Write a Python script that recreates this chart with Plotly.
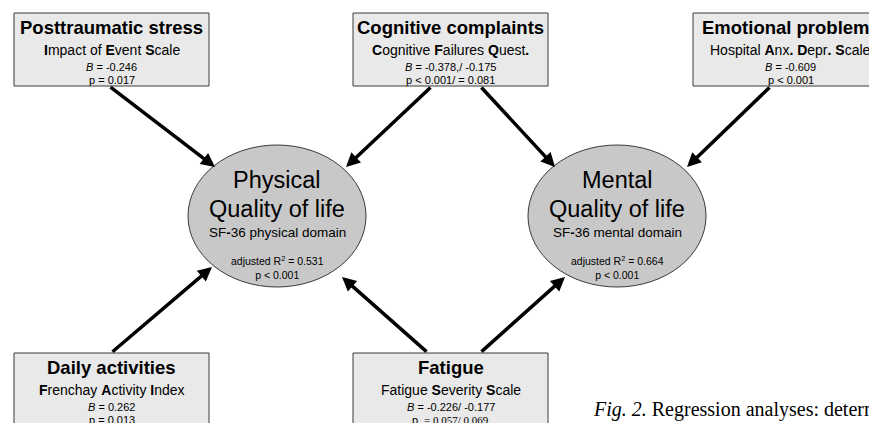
import plotly.graph_objects as go

# ---- data ----
box_titles = ["Posttraumatic stress", "Cognitive complaints", "Emotional problems",
              "Daily activities", "Fatigue"]
box_scales = ["<b>I</b>mpact of <b>E</b>vent <b>S</b>cale",
              "<b>C</b>ognitive <b>F</b>ailures <b>Q</b>uest<b>.</b>",
              "Hospital <b>A</b>nx<b>.</b> <b>D</b>epr<b>.</b> <b>S</b>cale",
              "<b>F</b>renchay <b>A</b>ctivity <b>I</b>ndex",
              "Fatigue <b>S</b>everity <b>S</b>cale"]
box_B = ["-0.246", "-0.378,/ -0.175", "-0.609", "0.262", "-0.226/ -0.177"]
box_p = ["p = 0.017", "p < 0.001/ = 0.081", "p < 0.001", "p = 0.013",
         "p <span style=\"font-family:'Liberation Serif'\"> = 0.057/ 0.069</span>"]

outcome_names = [["Physical", "Quality of life"], ["Mental", "Quality of life"]]
outcome_scales = ["SF<b>-</b>36 physical domain", "SF<b>-</b>36 mental domain"]
outcome_r2 = ["0.531", "0.664"]
outcome_p = ["p < 0.001", "p < 0.001"]

caption = "<i>Fig. 2.</i> Regression analyses: determinants of quality of life"

# ---- layout geometry (window pixel coordinates) ----
box_pos = [(14, 209, 13, 86), (353, 548, 13, 86), (693, 888, 13, 86),
           (14, 209, 353, 440), (353, 548, 353, 440)]
ell_pos = [(277, 216, 89, 71), (617, 216, 89, 71)]
arrows = [((109, 86), (215, 167)), ((432, 86), (346, 167)),
          ((480, 86), (555, 167)), ((771, 86), (687, 167)),
          ((111, 353), (212, 267)), ((428, 353), (342, 277)),
          ((480, 353), (565, 277))]

# page body has an 8px margin; offset the axis ranges so data units = window pixels
OFF = 8
SANS = "Liberation Sans, Arial, sans-serif"
fig = go.Figure()
shapes = []
ann = []

for (x0, x1, y0, y1) in box_pos:
    shapes.append(dict(type="rect", x0=x0, x1=x1, y0=y0, y1=y1, xref="x", yref="y",
                       fillcolor="#e9e9e9", line=dict(color="#3a3a3a", width=1), layer="below"))

for (cx, cy, rx, ry) in ell_pos:
    shapes.append(dict(type="circle", x0=cx - rx, x1=cx + rx, y0=cy - ry, y1=cy + ry,
                       xref="x", yref="y", fillcolor="#c8c8c8",
                       line=dict(color="#3a3a3a", width=1), layer="below"))

def txt(x, y, s, size, xanchor="center", family=SANS):
    ann.append(dict(x=x, y=y, xref="x", yref="y", text=s, showarrow=False,
                    xanchor=xanchor, yanchor="middle",
                    font=dict(family=family, size=size, color="black")))

for i, (x0, x1, y0, y1) in enumerate(box_pos):
    cx = (x0 + x1) / 2
    txt(cx, y0 + 14, "<b>" + box_titles[i] + "</b>", 18.5)
    txt(cx, y0 + 37, box_scales[i], 14)
    txt(cx, y0 + 54, "<i>B</i> = " + box_B[i], 11)
    txt(cx, y0 + 67, box_p[i], 11)

for i, (cx, cy, rx, ry) in enumerate(ell_pos):
    txt(cx, 180, outcome_names[i][0], 23.5)
    txt(cx, 209, outcome_names[i][1], 23.5)
    txt(cx, 232, outcome_scales[i], 13.5)
    txt(cx, 267, "adjusted R<sup>2</sup> = " + outcome_r2[i] + "<br>" + outcome_p[i], 10.5)

for (sx, sy), (tx, ty) in arrows:
    ann.append(dict(x=tx, y=ty, ax=sx, ay=sy, xref="x", yref="y", axref="x", ayref="y",
                    text="", showarrow=True, arrowhead=2, arrowsize=0.8,
                    arrowwidth=3.5, arrowcolor="black"))

txt(591, 409, caption, 20, xanchor="left", family="Liberation Serif, Times New Roman, serif")

fig.update_layout(
    width=877, height=423, margin=dict(l=0, r=0, t=0, b=0),
    paper_bgcolor="white", plot_bgcolor="white",
    xaxis=dict(range=[OFF, 877 + OFF], visible=False, fixedrange=True),
    yaxis=dict(range=[423 + OFF, OFF], visible=False, fixedrange=True),
    shapes=shapes, annotations=ann, showlegend=False,
)
fig.write_html("out.html")
